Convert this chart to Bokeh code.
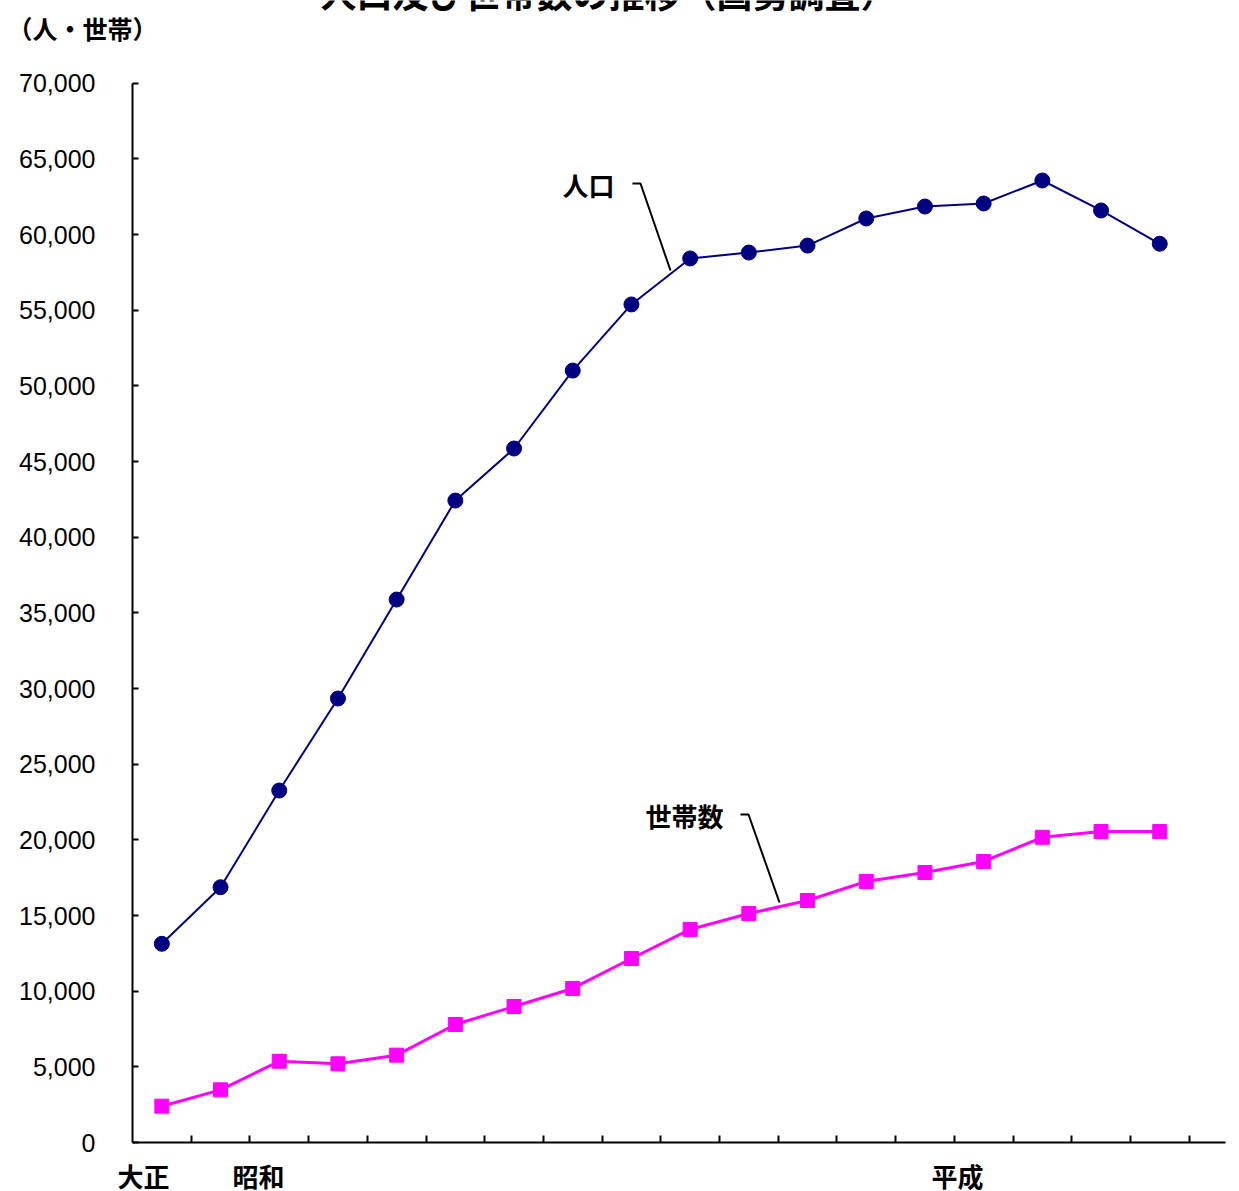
from bokeh.plotting import figure
from bokeh.models import (Label, FixedTicker, NumeralTickFormatter, Range1d,
                          LinearAxis, CustomJSTickFormatter)
from bokeh.embed import file_html
from bokeh.resources import INLINE

# ---- data ----
years = [1920, 1925, 1930, 1935, 1940, 1945, 1950, 1955, 1960,
         1965, 1970, 1975, 1980, 1985, 1990, 1995, 2000, 2005]
population = [13130, 16870, 23260, 29340, 35880, 42420, 45860, 51010, 55380,
              58420, 58810, 59270, 61060, 61850, 62050, 63570, 61590, 59390]
households = [2400, 3480, 5370, 5200, 5770, 7800, 8990, 10180, 12160,
              14080, 15130, 15990, 17250, 17840, 18570, 20170, 20550, 20550]
era_labels = ["大正", "昭和", "平成"]
y_ticks = list(range(0, 70001, 5000))
title_text = "人口及び世帯数の推移（国勢調査）"
unit_text = "（人・世帯）"
series_names = ["人口", "世帯数"]

idx = list(range(len(years)))
JP = "Noto Sans CJK JP"

# ---- layout (pixel geometry of the canvas) ----
W, H = 1235, 1190
AX_X, STEP = 132.0, 58.7          # y-axis line, category width
ZERO_Y, TOP_Y = 1142.0, 82.7      # pixel rows of 0 and 70,000
YMAX = 70000
YS = YMAX / (ZERO_Y - TOP_Y)


def dx(px):
    return (px - AX_X) / STEP - 0.5


def dy(py):
    return (ZERO_Y - py) * YS


p = figure(width=W, height=H,
           x_range=Range1d(dx(0), dx(W)), y_range=Range1d(dy(H), dy(0)),
           x_axis_type=None, y_axis_type=None,
           output_backend="svg", toolbar_location=None,
           min_border=0)
p.outline_line_color = None
p.grid.visible = False
p.background_fill_color = "white"
p.border_fill_color = "white"

# y axis (fixed inside the full-canvas frame)
yaxis = LinearAxis(fixed_location=-0.5, bounds=(0, YMAX),
                   ticker=FixedTicker(ticks=y_ticks),
                   formatter=NumeralTickFormatter(format="0,0"))
yaxis.major_tick_in = 6
yaxis.major_tick_out = 0
yaxis.minor_tick_in = 0
yaxis.minor_tick_out = 0
yaxis.axis_line_width = 2
yaxis.major_tick_line_width = 2
yaxis.major_label_standoff = 37
yaxis.major_label_text_font = "Liberation Sans"
yaxis.major_label_text_font_size = "25px"
yaxis.major_label_text_color = "black"
p.add_layout(yaxis, "left")

# x axis: boundary ticks (minor), era labels (major, no tick marks)
era_pos = [dx(143), dx(258), dx(957)]
xaxis = LinearAxis(fixed_location=0, bounds=(-0.5, dx(1225)),
                   ticker=FixedTicker(ticks=era_pos,
                                      minor_ticks=[k - 0.5 for k in range(1, len(years) + 1)]),
                   formatter=CustomJSTickFormatter(args=dict(labels=era_labels),
                                                   code="return labels[index];"))
xaxis.major_tick_in = 0
xaxis.major_tick_out = 0
xaxis.minor_tick_in = 7
xaxis.minor_tick_out = 0
xaxis.minor_tick_line_width = 2
xaxis.minor_tick_line_color = "black"
xaxis.axis_line_width = 2
xaxis.major_label_standoff = 14
xaxis.major_label_text_font = JP
xaxis.major_label_text_font_size = "26px"
xaxis.major_label_text_font_style = "bold"
xaxis.major_label_text_color = "black"
p.add_layout(xaxis, "below")

# series
p.line(idx, population, line_color="#000080", line_width=2)
p.scatter(idx, population, marker="circle", size=15,
          fill_color="#000080", line_color="#000080")
p.line(idx, households, line_color="#FF00FF", line_width=3)
p.scatter(idx, households, marker="square", size=14,
          fill_color="#FF00FF", line_color="#FF00FF")

# leader lines for the series labels
p.line([dx(632), dx(640), dx(670)], [dy(183), dy(183), dy(270)],
       line_color="black", line_width=2)
p.line([dx(740), dx(748), dx(779)], [dy(814), dy(814), dy(902)],
       line_color="black", line_width=2)


def lab(x, y, text, size, align="center", baseline="middle"):
    p.add_layout(Label(x=x, y=y, text=text, text_font=JP, text_font_size=size,
                       text_font_style="bold", text_color="black",
                       text_align=align, text_baseline=baseline))


lab(dx(588), dy(184), series_names[0], "26px")
lab(dx(684), dy(815), series_names[1], "26px")

# unit label and (cut-off) title
lab(dx(82), dy(27), unit_text, "25px")
lab(dx(608), dy(17), title_text, "36px", baseline="bottom")

open("out.html", "w").write(file_html(p, INLINE))
